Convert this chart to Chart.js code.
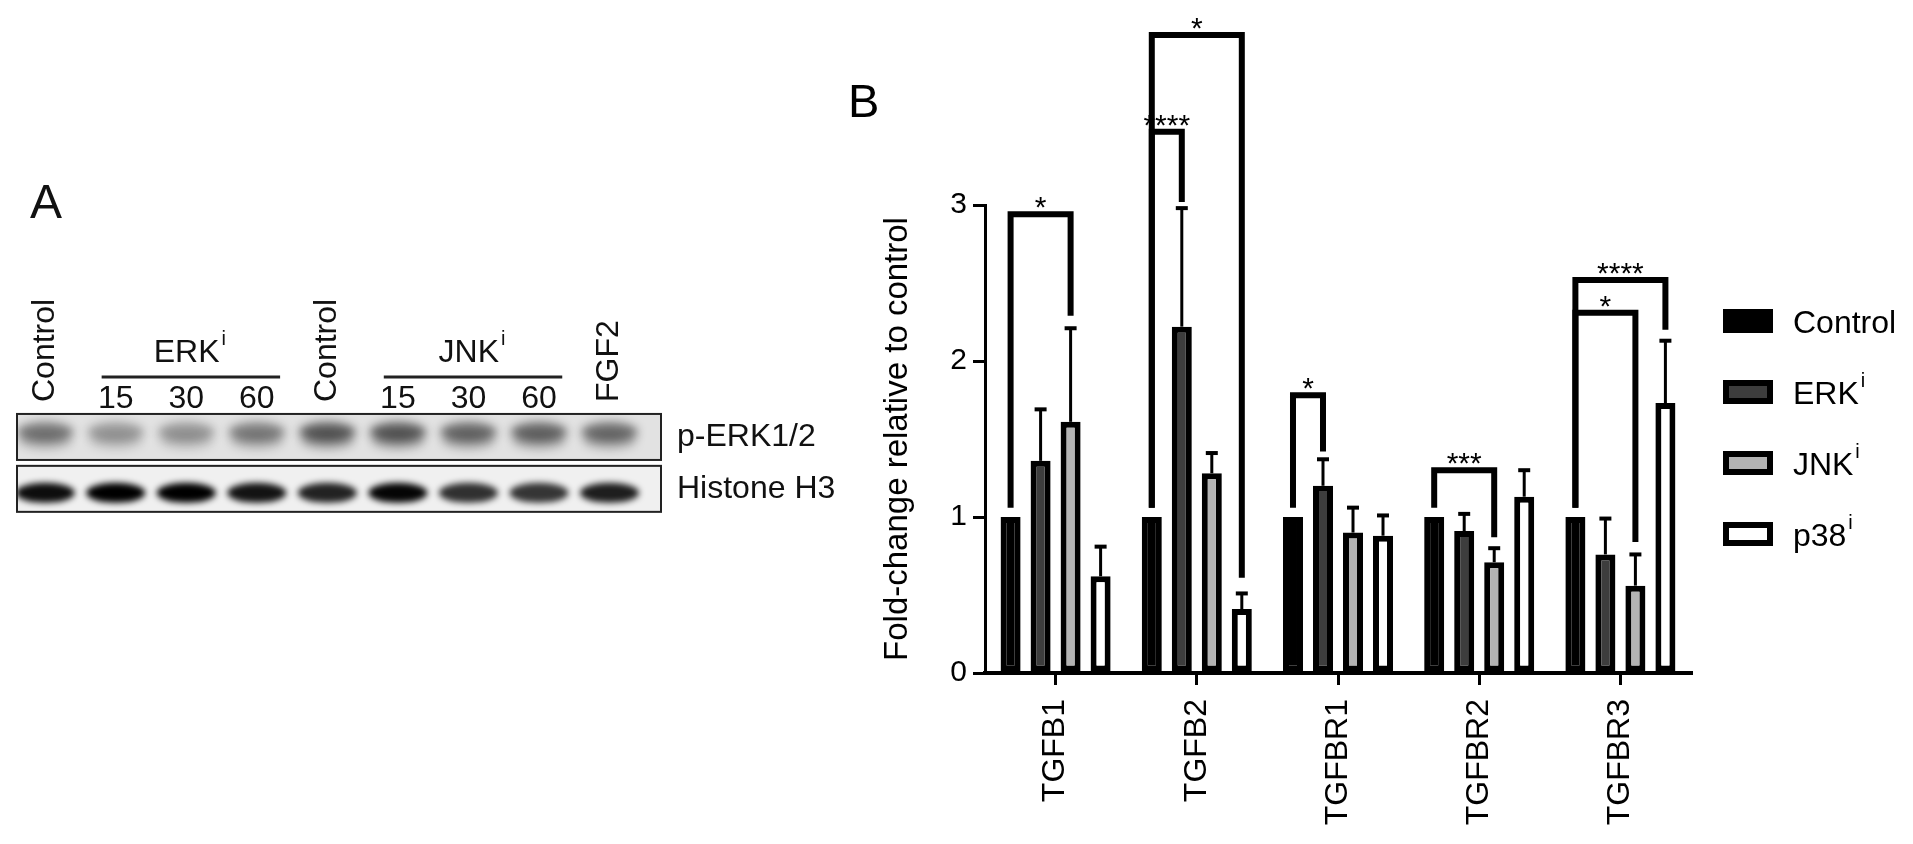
<!DOCTYPE html>
<html>
<head>
<meta charset="utf-8">
<script src="https://cdn.jsdelivr.net/npm/chart.js@4.4.1/dist/chart.umd.min.js"></script>
<style>
    html, body { margin: 0; padding: 0; background: #fff; overflow: hidden; }
    body { width: 1913px; height: 844px; position: relative; }
    #blotWrap { position: absolute; left: 0; top: 130px; width: 840px; height: 420px; }
    #barWrap { position: absolute; left: 840px; top: 0; width: 1073px; height: 844px; }
</style>
</head>
<body>
<div id="blotWrap"><canvas id="blotChart"></canvas></div>
<div id="barWrap"><canvas id="barChart"></canvas></div>
<script>
const FONT = '"Liberation Sans", Arial, Helvetica, sans-serif';

// Panel A - western blot lanes
const laneLabels = ["Control", "15", "30", "60", "Control", "15", "30", "60", "FGF2"];
const rotatedLanes = [0, 4, 8];
const laneGroups = [["ERK", 1, 3], ["JNK", 5, 7]];
const blotRows = ["p-ERK1/2", "Histone H3"];
const pErkBands = [0.62, 0.42, 0.43, 0.58, 0.80, 0.80, 0.70, 0.72, 0.68];
const histoneBands = [0.95, 1.0, 1.0, 0.92, 0.86, 0.98, 0.80, 0.78, 0.88];

// Panel B - qPCR fold change
const genes = ["TGFB1", "TGFB2", "TGFBR1", "TGFBR2", "TGFBR3"];
const seriesNames = ["Control", "ERK", "JNK", "p38"];
const seriesSup = ["", "i", "i", "i"];
const seriesColors = ["#000000", "#3d3d3d", "#b3b3b3", "#ffffff"];
const controlValues = [1, 1, 1, 1, 1];
const erkValues = [1.36, 2.22, 1.20, 0.91, 0.76];
const jnkValues = [1.61, 1.28, 0.90, 0.71, 0.56];
const p38Values = [0.62, 0.41, 0.88, 1.13, 1.73];
const erkSem = [0.33, 0.76, 0.17, 0.11, 0.23];
const jnkSem = [0.60, 0.13, 0.16, 0.09, 0.20];
const p38Sem = [0.19, 0.10, 0.13, 0.17, 0.40];
const yTicks = [0, 1, 2, 3];
// [gene, from series, to series, bracket top, left leg end, right leg end, label]
const brackets = [
    [0, 0, 2, 2.94, 1.06, 2.29, "*"],
    [1, 0, 1, 3.47, 1.06, 3.02, "****"],
    [1, 0, 3, 4.09, 1.06, 0.61, "*"],
    [2, 0, 1, 1.78, 1.06, 1.42, "*"],
    [3, 0, 2, 1.30, 1.06, 0.87, "***"],
    [4, 0, 2, 2.31, 1.06, 0.84, "*"],
    [4, 0, 3, 2.52, 1.06, 2.20, "****"]
];

function drawSup(ctx, text, sup, x, y, size, align) {
    ctx.font = `${size}px ${FONT}`;
    const w = ctx.measureText(text).width;
    const supSize = Math.round(size * 0.64);
    ctx.font = `${supSize}px ${FONT}`;
    const sw = sup ? ctx.measureText(sup).width + size * 0.06 : 0;
    const left = align === "center" ? x - (w + sw) / 2 : x;
    ctx.textAlign = "left";
    ctx.textBaseline = "alphabetic";
    ctx.font = `${size}px ${FONT}`;
    ctx.fillText(text, left, y);
    if (sup) {
        ctx.font = `${supSize}px ${FONT}`;
        ctx.fillText(sup, left + w + size * 0.06, y - size * 0.52);
    }
}

const blotPlugin = {
    id: "blot",
    afterDraw(chart) {
        const { ctx, chartArea: area, scales: { x, y } } = chart;
        const laneW = x.getPixelForValue(1) - x.getPixelForValue(0);

        blotRows.forEach((row, r) => {
            const cy = y.getPixelForValue(r);
            const top = cy - 23, bottom = cy + 23;
            ctx.save();
            ctx.fillStyle = r ? "#f0f0f0" : "#e2e2e2";
            ctx.fillRect(area.left, top, area.right - area.left, bottom - top);
            ctx.beginPath();
            ctx.rect(area.left, top, area.right - area.left, bottom - top);
            ctx.clip();
            const meta = chart.getDatasetMeta(r);
            const bands = r ? histoneBands : pErkBands;
            meta.data.forEach((pt, i) => {
                const v = bands[i];
                if (r === 0) {
                    ctx.filter = "blur(5px)";
                    ctx.fillStyle = `rgba(0,0,0,${v * 0.72})`;
                    ctx.beginPath();
                    ctx.ellipse(pt.x, pt.y - 5, laneW * 0.40, 10, 0, 0, Math.PI * 2);
                    ctx.fill();
                    ctx.fillStyle = `rgba(0,0,0,${v * 0.3})`;
                    ctx.beginPath();
                    ctx.ellipse(pt.x, pt.y + 4, laneW * 0.38, 9, 0, 0, Math.PI * 2);
                    ctx.fill();
                } else {
                    ctx.filter = "blur(3px)";
                    ctx.fillStyle = `rgba(0,0,0,${v})`;
                    ctx.beginPath();
                    ctx.ellipse(pt.x, pt.y + 4, laneW * 0.42, 10, 0, 0, Math.PI * 2);
                    ctx.fill();
                }
            });
            ctx.restore();
            ctx.lineWidth = 2;
            ctx.strokeStyle = "#222";
            ctx.strokeRect(area.left, top, area.right - area.left, bottom - top);
        });

        ctx.save();
        ctx.fillStyle = "#111";
        laneLabels.forEach((label, i) => {
            const lx = x.getPixelForValue(i);
            if (rotatedLanes.includes(i)) {
                ctx.save();
                ctx.translate(lx, area.top - 9);
                ctx.rotate(-Math.PI / 2);
                ctx.font = `32px ${FONT}`;
                ctx.textAlign = "left";
                ctx.textBaseline = "middle";
                ctx.fillText(label, 0, 0);
                ctx.restore();
            } else {
                ctx.font = `32px ${FONT}`;
                ctx.textAlign = "center";
                ctx.textBaseline = "alphabetic";
                ctx.fillText(label, lx, area.top - 3);
            }
        });
        laneGroups.forEach(([name, from, to]) => {
            ctx.lineWidth = 3;
            ctx.strokeStyle = "#222";
            ctx.beginPath();
            ctx.moveTo(x.getPixelForValue(from - 0.2), area.top - 34);
            ctx.lineTo(x.getPixelForValue(to + 0.33), area.top - 34);
            ctx.stroke();
            drawSup(ctx, name, "i", x.getPixelForValue((from + to) / 2 + 0.05), area.top - 49, 32, "center");
        });
        ctx.font = `48px ${FONT}`;
        ctx.textAlign = "left";
        ctx.textBaseline = "alphabetic";
        ctx.fillText("A", 30, 88);
        ctx.restore();
    }
};

new Chart(document.getElementById("blotChart"), {
    type: "scatter",
    data: {
        datasets: [
            { label: blotRows[0], data: pErkBands.map((v, i) => ({ x: i, y: blotRows[0] })), pointRadius: 0 },
            { label: blotRows[1], data: histoneBands.map((v, i) => ({ x: i, y: blotRows[1] })), pointRadius: 0 }
        ]
    },
    options: {
        animation: false,
        responsive: true,
        maintainAspectRatio: false,
        layout: { padding: { left: 17, top: 281, bottom: 34, right: 0 } },
        plugins: { legend: { display: false }, tooltip: { enabled: false } },
        scales: {
            x: { type: "linear", min: -0.4, max: 8.73, display: false },
            y: {
                type: "category",
                labels: blotRows,
                position: "right",
                offset: true,
                grid: { display: false, drawTicks: false },
                border: { display: false },
                ticks: { color: "#111", padding: 16, font: { family: FONT, size: 32 } },
                afterFit: (s) => { s.width = 179; }
            }
        }
    },
    plugins: [blotPlugin]
});

const barExtras = {
    id: "barExtras",
    afterDatasetsDraw(chart) {
        const { ctx, scales: { y } } = chart;
        ctx.save();
        ctx.strokeStyle = "#000";
        chart.data.datasets.forEach((ds, di) => {
            if (!ds.sem) return;
            chart.getDatasetMeta(di).data.forEach((bar, i) => {
                const yTop = y.getPixelForValue(ds.data[i] + ds.sem[i]);
                ctx.lineWidth = 3;
                ctx.beginPath();
                ctx.moveTo(bar.x, bar.y);
                ctx.lineTo(bar.x, yTop);
                ctx.stroke();
                ctx.lineWidth = 4;
                ctx.beginPath();
                ctx.moveTo(bar.x - 6, yTop);
                ctx.lineTo(bar.x + 6, yTop);
                ctx.stroke();
            });
        });

        brackets.forEach(([g, a, b, top, endA, endB, label]) => {
            const xa = chart.getDatasetMeta(a).data[g].x;
            const xb = chart.getDatasetMeta(b).data[g].x;
            const yt = y.getPixelForValue(top);
            ctx.lineWidth = 6;
            ctx.lineJoin = "miter";
            ctx.lineCap = "butt";
            ctx.beginPath();
            ctx.moveTo(xa, y.getPixelForValue(endA));
            ctx.lineTo(xa, yt);
            ctx.lineTo(xb, yt);
            ctx.lineTo(xb, y.getPixelForValue(endB));
            ctx.stroke();
            ctx.fillStyle = "#000";
            ctx.font = `30px ${FONT}`;
            ctx.textAlign = "center";
            ctx.textBaseline = "alphabetic";
            ctx.fillText(label, (xa + xb) / 2, yt + 3);
        });
        ctx.restore();
    },
    afterDraw(chart) {
        const { ctx, chartArea: area } = chart;
        ctx.save();
        const lx = area.right + 32;
        chart.data.datasets.forEach((ds, i) => {
            const cy = area.top + 116 + i * 71;
            ctx.fillStyle = ds.backgroundColor;
            ctx.fillRect(lx, cy - 12, 50, 24);
            ctx.lineWidth = 6;
            ctx.strokeStyle = "#000";
            ctx.strokeRect(lx + 3, cy - 9, 44, 18);
            ctx.fillStyle = "#000";
            drawSup(ctx, seriesNames[i], seriesSup[i], lx + 70, cy + 12, 32, "left");
        });
        ctx.font = `47px ${FONT}`;
        ctx.textAlign = "left";
        ctx.textBaseline = "alphabetic";
        ctx.fillText("B", 8, 117);
        ctx.restore();
    }
};

const seriesValues = [controlValues, erkValues, jnkValues, p38Values];
const seriesSem = [null, erkSem, jnkSem, p38Sem];

new Chart(document.getElementById("barChart"), {
    type: "bar",
    data: {
        labels: genes,
        datasets: seriesNames.map((name, i) => ({
            label: name,
            data: seriesValues[i],
            sem: seriesSem[i],
            backgroundColor: seriesColors[i],
            borderColor: "#000",
            borderWidth: 6,
            borderSkipped: false,
            categoryPercentage: 0.85,
            barPercentage: 0.667
        }))
    },
    options: {
        animation: false,
        responsive: true,
        maintainAspectRatio: false,
        layout: { padding: { top: 205, right: 222, left: 0, bottom: 0 } },
        plugins: { legend: { display: false }, tooltip: { enabled: false } },
        scales: {
            x: {
                grid: { display: true, drawOnChartArea: false, offset: false, tickLength: 12, lineWidth: 3, color: "#000" },
                border: { display: true, width: 4, color: "#000" },
                ticks: {
                    autoSkip: false, minRotation: 90, maxRotation: 90, padding: 14,
                    color: "#000", font: { family: FONT, size: 32 }
                },
                afterFit: (s) => { s.height = 171; }
            },
            y: {
                min: 0,
                max: 3,
                grid: { drawOnChartArea: false, tickLength: 12, lineWidth: 3, color: "#000" },
                border: { width: 3, color: "#000" },
                ticks: { stepSize: 1, padding: 6, color: "#000", font: { family: FONT, size: 30 } },
                afterBuildTicks: (s) => { s.ticks = yTicks.map(v => ({ value: v })); },
                title: {
                    display: true,
                    text: "Fold-change relative to control",
                    color: "#000",
                    font: { family: FONT, size: 33 },
                    padding: { top: 38, bottom: 0 }
                },
                afterFit: (s) => { s.width = 145; }
            }
        }
    },
    plugins: [barExtras]
});
</script>
</body>
</html>
